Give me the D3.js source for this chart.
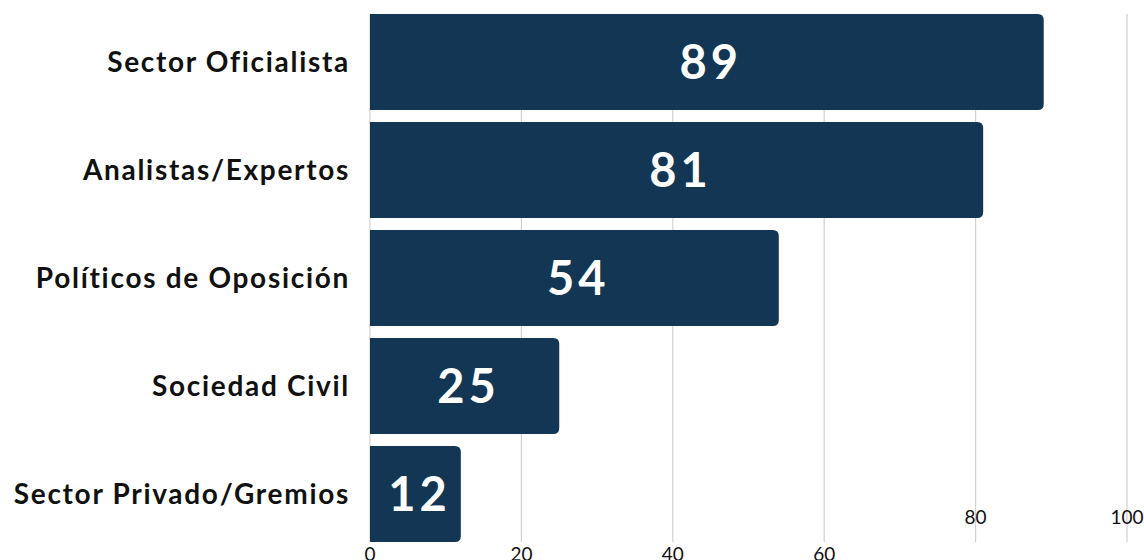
<!DOCTYPE html>
<html>
<head>
<meta charset="utf-8">
<script src="https://d3js.org/d3.v7.min.js"></script>
<style>
  body { margin: 0; background: #fff; }
  text { font-family: Lato, "Open Sans", sans-serif; }
</style>
</head>
<body>
<div id="chart"></div>
<script>
// data
var categories = ["Sector Oficialista", "Analistas/Expertos", "Políticos de Oposición", "Sociedad Civil", "Sector Privado/Gremios"];
var values = [89, 81, 54, 25, 12];
var tickValues = [0, 20, 40, 60, 80, 100];

var W = 1144, H = 560;
var margin = {top: 14, right: 17, bottom: 18, left: 370};

var svg = d3.select("#chart").append("svg")
    .attr("width", W)
    .attr("height", H);

var x = d3.scaleLinear()
    .domain([0, 100])
    .range([margin.left, W - margin.right]);

var y = d3.scaleBand()
    .domain(categories)
    .range([margin.top, H - margin.bottom])
    .paddingInner(0.11)
    .paddingOuter(0);

// grid lines
svg.append("g")
  .selectAll("line")
  .data(tickValues)
  .enter().append("line")
    .attr("x1", d => x(d)).attr("x2", d => x(d))
    .attr("y1", margin.top).attr("y2", H - margin.bottom)
    .attr("stroke", "#d0d0d0")
    .attr("stroke-width", 1.2);

// tick labels (the last two sit higher, like in the original)
svg.append("g")
  .selectAll("text")
  .data(tickValues)
  .enter().append("text")
    .attr("x", d => x(d))
    .attr("y", d => d >= 80 ? 524 : 561)
    .attr("text-anchor", "middle")
    .style("font-size", "19px")
    .style("fill", "#111")
    .text(d => d);

// bars, rounded on the right end only
var r = 6;
function barPath(d, i) {
  var x0 = x(0), x1 = x(d), y0 = y(categories[i]), h = y.bandwidth();
  var rr = Math.min(r, (x1 - x0) / 2);
  return "M" + x0 + "," + y0 +
    "H" + (x1 - rr) +
    "Q" + x1 + "," + y0 + " " + x1 + "," + (y0 + rr) +
    "V" + (y0 + h - rr) +
    "Q" + x1 + "," + (y0 + h) + " " + (x1 - rr) + "," + (y0 + h) +
    "H" + x0 + "Z";
}

svg.append("g")
  .selectAll("path")
  .data(values)
  .enter().append("path")
    .attr("d", barPath)
    .attr("fill", "#123654");

// value labels
svg.append("g")
  .selectAll("text")
  .data(values)
  .enter().append("text")
    .attr("x", d => (x(0) + x(d)) / 2 + 4)
    .attr("y", (d, i) => y(categories[i]) + y.bandwidth() / 2)
    .attr("dy", "0.36em")
    .attr("text-anchor", "middle")
    .style("font-size", "47px")
    .style("font-weight", "bold")
    .style("fill", "#fff")
    .style("letter-spacing", "4px")
    .text(d => d);

// category labels
svg.append("g")
  .selectAll("text")
  .data(categories)
  .enter().append("text")
    .attr("x", margin.left - 20)
    .attr("y", d => y(d) + y.bandwidth() / 2)
    .attr("dy", "0.36em")
    .attr("text-anchor", "end")
    .style("font-size", "28px")
    .style("font-weight", "bold")
    .style("letter-spacing", "1.7px")
    .style("fill", "#111")
    .text(d => d);
</script>
</body>
</html>
